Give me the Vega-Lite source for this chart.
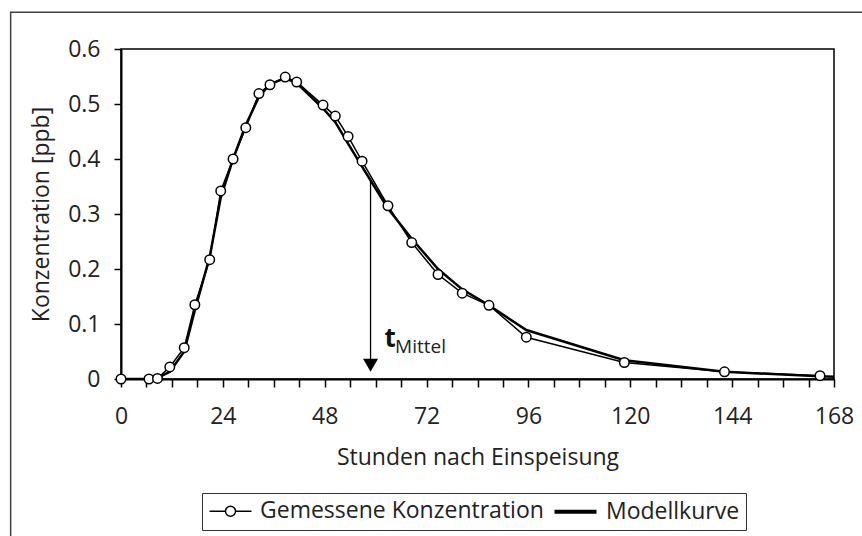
{
  "$schema": "https://vega.github.io/schema/vega-lite/v6.json",
  "width": 713,
  "height": 330,
  "autosize": {"type": "none"},
  "padding": {"left": 121, "top": 49, "right": 28, "bottom": 157},
  "background": "white",
  "config": {
    "font": "Open Sans",
    "view": {"stroke": "black", "strokeWidth": 1.5},
    "axis": {
      "labelFont": "Open Sans", "labelFontSize": 23, "labelColor": "#222",
      "titleFont": "Open Sans", "titleFontSize": 23, "titleFontWeight": "normal", "titleColor": "#222",
      "domainColor": "black", "domainWidth": 2, "tickColor": "black", "tickWidth": 1.5, "grid": false,
      "labelFlush": false
    },
    "legend": {
      "title": null,
      "labelFont": "Open Sans", "labelFontSize": 23, "labelColor": "#222", "labelLimit": 500,
      "strokeColor": "#333", "padding": 6, "symbolSize": 441,
      "symbolStrokeColor": "black", "symbolFillColor": "white",
      "symbolOffset": 11, "labelOffset": 18, "columnPadding": 2
    }
  },
  "datasets": {
    "messung": [
      {"t": 0, "c": 0}, {"t": 6.6, "c": 0}, {"t": 8.6, "c": 0.001}, {"t": 11.5, "c": 0.022},
      {"t": 14.9, "c": 0.057}, {"t": 17.4, "c": 0.135}, {"t": 20.9, "c": 0.217}, {"t": 23.5, "c": 0.342},
      {"t": 26.4, "c": 0.4}, {"t": 29.4, "c": 0.457}, {"t": 32.5, "c": 0.519}, {"t": 35.1, "c": 0.535},
      {"t": 38.7, "c": 0.549}, {"t": 41.4, "c": 0.54}, {"t": 47.6, "c": 0.498}, {"t": 50.5, "c": 0.478},
      {"t": 53.5, "c": 0.441}, {"t": 56.8, "c": 0.396}, {"t": 62.9, "c": 0.315}, {"t": 68.5, "c": 0.248},
      {"t": 74.7, "c": 0.19}, {"t": 80.4, "c": 0.156}, {"t": 86.7, "c": 0.134}, {"t": 95.5, "c": 0.076},
      {"t": 118.6, "c": 0.03}, {"t": 142.2, "c": 0.013}, {"t": 164.7, "c": 0.006}
    ],
    "modell": [
      {"t": 0, "c": 0}, {"t": 6.6, "c": 0}, {"t": 8.6, "c": 0.002}, {"t": 11.5, "c": 0.013},
      {"t": 14.9, "c": 0.05}, {"t": 17.4, "c": 0.125}, {"t": 20.9, "c": 0.222}, {"t": 23.5, "c": 0.33},
      {"t": 26.4, "c": 0.4}, {"t": 29.4, "c": 0.462}, {"t": 32.5, "c": 0.513}, {"t": 35.1, "c": 0.536},
      {"t": 38.7, "c": 0.547}, {"t": 41.4, "c": 0.538}, {"t": 47.6, "c": 0.492}, {"t": 50.5, "c": 0.467},
      {"t": 53.5, "c": 0.428}, {"t": 56.8, "c": 0.386}, {"t": 62.9, "c": 0.31}, {"t": 68.5, "c": 0.255},
      {"t": 74.7, "c": 0.2}, {"t": 80.4, "c": 0.163}, {"t": 86.7, "c": 0.134}, {"t": 95.5, "c": 0.089},
      {"t": 118.6, "c": 0.034}, {"t": 142.2, "c": 0.013}, {"t": 164.7, "c": 0.005}, {"t": 168, "c": 0.004}
    ],
    "mittel": [{"t": 58.8, "c": 0.361}]
  },
  "layer": [
    {
      "data": {"values": [{}]},
      "mark": {"type": "rect", "fillOpacity": 0, "stroke": "#404040", "strokeWidth": 1.5, "clip": false},
      "encoding": {
        "x": {"datum": -26, "type": "quantitative",
              "scale": {"domain": [0, 168], "nice": false, "zero": false}, "axis": null},
        "x2": {"datum": 260},
        "y": {"datum": 0.667, "type": "quantitative", "scale": {"domain": [0, 0.6], "nice": false}},
        "y2": {"datum": -1}
      }
    },
    {
      "data": {"name": "messung"},
      "mark": {"type": "line", "color": "black", "clip": true},
      "encoding": {
        "x": {"field": "t", "type": "quantitative", "axis": null},
        "y": {"field": "c", "type": "quantitative"},
        "strokeWidth": {"datum": "Gemessene Konzentration", "type": "nominal",
          "scale": {"type": "ordinal", "domain": ["Gemessene Konzentration", "Modellkurve"], "range": [1.5, 4]},
          "legend": {
            "orient": "none", "legendX": 81, "legendY": 444, "direction": "horizontal",
            "symbolType": "stroke",
            "encode": {"symbols": {"update": {
              "shape": {"signal": "datum.value === 'Modellkurve' ? 'M-2,0L2,0' : 'M-2,0L-0.48,0A0.48,0.48 0 1,1 0.48,0A0.48,0.48 0 1,1 -0.48,0M0.48,0L2,0'"},
              "fill": {"value": "white"},
              "stroke": {"value": "black"}
            }}}
          }}
      }
    },
    {
      "data": {"name": "modell"},
      "mark": {"type": "line", "color": "black", "clip": true},
      "encoding": {
        "x": {"field": "t", "type": "quantitative",
              "axis": {"orient": "bottom",
                       "values": [0,6,12,18,24,30,36,42,48,54,60,66,72,78,84,90,96,102,108,114,120,126,132,138,144,150,156,162,168],
                       "labelExpr": "datum.value % 24 === 0 ? datum.label : ''",
                       "labelOverlap": false,
                       "tickSize": 8, "labelPadding": 18,
                       "title": "Stunden nach Einspeisung", "titlePadding": 18,
                       "encode": {"ticks": {"update": {
                         "y": {"value": -7},
                         "y2": {"signal": "datum.value % 24 === 0 ? 8 : 0"}
                       }}}}},
        "y": {"field": "c", "type": "quantitative",
              "axis": {"values": [0,0.1,0.2,0.3,0.4,0.5,0.6], "format": ".1~f", "tickSize": 7, "labelPadding": 14,
                       "title": "Konzentration [ppb]", "titlePadding": 14}},
        "strokeWidth": {"datum": "Modellkurve", "type": "nominal", "legend": null}
      }
    },
    {
      "data": {"name": "messung"},
      "mark": {"type": "point", "filled": true, "fill": "white", "stroke": "black", "strokeWidth": 1.5, "size": 90, "opacity": 1},
      "encoding": {
        "x": {"field": "t", "type": "quantitative", "axis": null},
        "y": {"field": "c", "type": "quantitative"}
      }
    },
    {
      "data": {"name": "mittel"},
      "mark": {"type": "rule", "color": "black", "strokeWidth": 1.3},
      "encoding": {
        "x": {"field": "t", "type": "quantitative", "axis": null},
        "y": {"field": "c", "type": "quantitative"},
        "y2": {"datum": 0.03}
      }
    },
    {
      "data": {"name": "mittel"},
      "mark": {"type": "point", "shape": "triangle-down", "filled": true, "color": "black", "size": 225, "opacity": 1},
      "encoding": {
        "x": {"field": "t", "type": "quantitative", "axis": null},
        "y": {"datum": 0.025, "type": "quantitative"}
      }
    },
    {
      "data": {"name": "mittel"},
      "mark": {"type": "text", "text": "t", "font": "Open Sans", "fontWeight": "bold", "fontSize": 26, "align": "left", "baseline": "alphabetic", "dx": 14, "color": "#111"},
      "encoding": {
        "x": {"field": "t", "type": "quantitative", "axis": null},
        "y": {"datum": 0.0576, "type": "quantitative"}
      }
    },
    {
      "data": {"name": "mittel"},
      "mark": {"type": "text", "text": "Mittel", "font": "Open Sans", "fontSize": 19, "align": "left", "baseline": "alphabetic", "dx": 24.5, "color": "#222"},
      "encoding": {
        "x": {"field": "t", "type": "quantitative", "axis": null},
        "y": {"datum": 0.0467, "type": "quantitative"}
      }
    }
  ],
  "resolve": {"axis": {"x": "independent"}}
}
